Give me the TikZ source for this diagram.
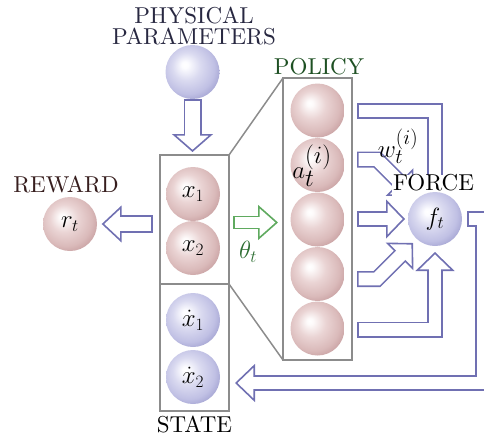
\documentclass[tikz,border=0pt]{standalone}
\usepackage{fontspec}
\setmainfont{lmroman10-regular}[Extension=.otf]
\usetikzlibrary{arrows.meta}

\definecolor{arrowblue}{RGB}{112,112,178}
\definecolor{boxgray}{RGB}{140,140,140}
\definecolor{greenarrow}{RGB}{95,170,95}
\definecolor{policygreen}{RGB}{30,80,35}
\definecolor{thetagreen}{RGB}{45,110,50}
\definecolor{textnavy}{RGB}{40,40,65}
\definecolor{rewardbrown}{RGB}{55,30,30}

\definecolor{redhi}{RGB}{253,250,250}
\definecolor{redbody}{RGB}{234,212,212}
\definecolor{redmid}{RGB}{218,186,186}
\definecolor{rededge}{RGB}{190,146,148}
\definecolor{bluehi}{RGB}{252,252,255}
\definecolor{bluebody}{RGB}{218,218,240}
\definecolor{bluemid}{RGB}{192,192,228}
\definecolor{blueedge}{RGB}{148,148,200}

\pgfdeclareradialshading{redball}{\pgfpoint{-7.5bp}{7bp}}{%
  color(0bp)=(white); color(3bp)=(redhi); color(13bp)=(redbody);
  color(24bp)=(redmid); color(34bp)=(rededge); color(50bp)=(rededge)}
\pgfdeclareradialshading{blueball}{\pgfpoint{-7.5bp}{7bp}}{%
  color(0bp)=(white); color(3bp)=(bluehi); color(13bp)=(bluebody);
  color(24bp)=(bluemid); color(34bp)=(blueedge); color(50bp)=(blueedge)}

% hollow block arrow: colour, outer shaft width, inner shaft width,
% head width, head length, path
\newcommand\hollowarrow[6]{%
  \draw[line width=#2, draw=#1,
        -{Triangle[length=#5, width=#4, line width=1.6pt, fill=white]}] #6;
  \draw[line width=#3, draw=white, shorten <=1.6pt, shorten >=11pt] #6;
}

\begin{document}
\begin{tikzpicture}[x=1pt, y=-1pt, line join=miter,
  txt/.style={inner sep=0pt, font=\fontsize{23}{21}\selectfont},
  mth/.style={font=\fontsize{26}{26}\selectfont},
  ball/.style={circle, minimum size=54pt, inner sep=0pt, mth},
  rball/.style={ball, shade, shading=redball},
  bball/.style={ball, shade, shading=blueball},
  frame/.style={draw=boxgray, line width=1.5pt},
]
\useasboundingbox (0,0) rectangle (484,439);
\clip (0,0) rectangle (484,439);

% physical parameters
\node[txt, text=textnavy, align=center, anchor=north] (pptext) at (194,7) {PHYSICAL\\PARAMETERS};
\node[bball] (pp) at (192.5,72) {};

% state column
\coordinate (stateTL) at (160,155);
\coordinate (stateBR) at (229,411);
\coordinate (stateTR) at (229,155);
\coordinate (stateML) at (160,284);
\coordinate (stateMR) at (229,284);
\draw[frame] (stateTL) rectangle (stateBR);
\draw[frame] (stateML) -- (stateMR);
\node[rball] (x1) at (193,194) {$x_1$};
\node[rball] (x2) at (193,248) {$x_2$};
\node[bball] (v1) at (193,320) {$\dot x_1$};
\node[bball] (v2) at (193,377) {$\dot x_2$};
\node[txt, anchor=base] (statelbl) at (194.5,432) {STATE};

% reward
\node[txt, text=rewardbrown, anchor=base] (rwlbl) at (66,192) {REWARD};
\node[rball] (rw) at (70,224) {$r_t$};

% policy column
\coordinate (polTL) at (283,78);
\coordinate (polBR) at (352,360);
\coordinate (polBL) at (283,360);
\draw[frame] (polTL) rectangle (polBR);
\draw[frame] (stateTR) -- (polTL);
\draw[frame] (stateMR) -- (polBL);
\node[txt, text=policygreen, anchor=base] (pollbl) at (319,74) {POLICY};
\node[rball] (p1) at (317.5,110.5) {};
\node[rball] (p2) at (317.5,165) {};
\node[font=\fontsize{35}{35}\selectfont, inner sep=0pt] (alabel) at (312,166) {$a_t^{(i)}$};
\node[rball] (p3) at (317.5,219.5) {};
\node[rball] (p4) at (317.5,274) {};
\node[rball] (p5) at (317.5,328.5) {};

% arrow end points
\coordinate (t1) at (357,111);
\coordinate (t2) at (357,159.5);
\coordinate (b2) at (377,159.5);
\coordinate (h2) at (413,195.5);
\coordinate (t3) at (357,219);
\coordinate (t4) at (357,279);
\coordinate (b4) at (377,279);
\coordinate (h4) at (413,243);
\coordinate (t5) at (357,329.5);
\coordinate (fbcorner) at (483,383);
\coordinate (fbtip) at (235,383);
\coordinate (ftpos) at (435,219);

% state, reward and parameter arrows
\hollowarrow{arrowblue}{18pt}{14.8pt}{41pt}{18pt}{(pp.south) -- (192.5,152)}
\hollowarrow{arrowblue}{17.5pt}{14.3pt}{37pt}{20pt}{(153,224) -- ([xshift=4.5pt]rw.east)}
\hollowarrow{greenarrow}{13.5pt}{10.3pt}{35pt}{20pt}{(233,222.5) -- (278,222.5)}
\node[mth, text=thetagreen] (theta) at (248,252) {$\theta_t$};

% policy outputs into the force
\hollowarrow{arrowblue}{16pt}{12.8pt}{39pt}{19pt}{(t1) -| ([yshift=-23pt]ftpos)}
\hollowarrow{arrowblue}{16pt}{12.8pt}{39pt}{19pt}{(t2) -- (b2) -- (h2)}
\hollowarrow{arrowblue}{16pt}{12.8pt}{39pt}{19pt}{(t3) -- ([xshift=-30pt]ftpos)}
\hollowarrow{arrowblue}{16pt}{12.8pt}{39pt}{19pt}{(t4) -- (b4) -- (h4)}
\hollowarrow{arrowblue}{16pt}{12.8pt}{39pt}{19pt}{(t5) -| ([yshift=-33pt]ftpos)}

% feedback of the force to the state
\hollowarrow{arrowblue}{15.5pt}{12.3pt}{38pt}{20pt}{([xshift=32pt]ftpos) -| (fbcorner) -- (fbtip)}

\node[txt, fill=white, anchor=base, text height=16pt, text depth=8pt, inner xsep=1.5pt] (forcelbl) at (433.5,190.5) {FORCE};
\node[bball, font=\fontsize{27}{27}\selectfont] (ft) at (ftpos) {$f_t$};
\node[font=\fontsize{28}{28}\selectfont, inner sep=0pt] (wlbl) at (398,146) {$w_t^{(i)}$};
\end{tikzpicture}
\end{document}
